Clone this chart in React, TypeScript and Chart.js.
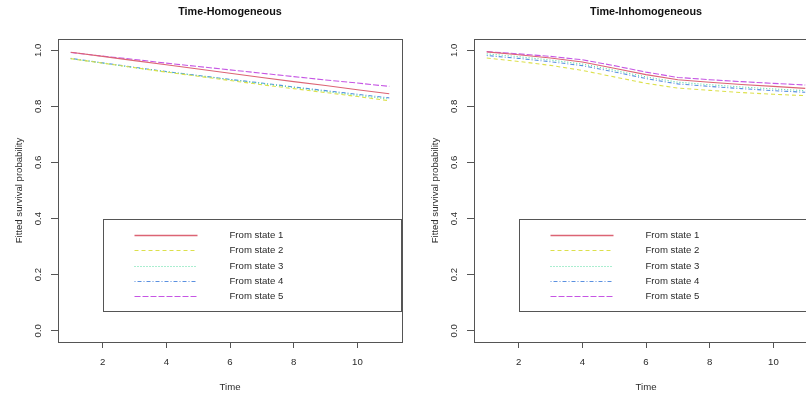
import React, { useEffect, useRef } from "react";
import { Chart, registerables } from "chart.js";

Chart.register(...registerables);

// ---------- data ----------
const times = [1, 2, 3, 4, 5, 6, 7, 8, 9, 10, 11];
const seriesLabels = ["From state 1", "From state 2", "From state 3", "From state 4", "From state 5"];
const panelTitles = ["Time-Homogeneous", "Time-Inhomogeneous"];
const xTitle = "Time";
const yTitle = "Fitted survival probability";
const xTickValues = [2, 4, 6, 8, 10];
const yTickValues = [0, 0.2, 0.4, 0.6, 0.8, 1.0];
const yTickLabels = ["0.0", "0.2", "0.4", "0.6", "0.8", "1.0"];

const homState1 = [0.993, 0.978, 0.963, 0.948, 0.933, 0.918, 0.903, 0.888, 0.874, 0.859, 0.845];
const homState2 = [0.970, 0.954, 0.938, 0.922, 0.907, 0.892, 0.877, 0.863, 0.849, 0.835, 0.820];
const homState3 = [0.970, 0.954, 0.938, 0.923, 0.909, 0.895, 0.881, 0.867, 0.853, 0.839, 0.826];
const homState4 = [0.971, 0.955, 0.939, 0.924, 0.910, 0.896, 0.883, 0.869, 0.856, 0.843, 0.830];
const homState5 = [0.992, 0.979, 0.967, 0.954, 0.942, 0.930, 0.918, 0.906, 0.894, 0.883, 0.871];

const inhomState1 = [0.994, 0.984, 0.972, 0.958, 0.936, 0.913, 0.895, 0.886, 0.878, 0.871, 0.864];
const inhomState2 = [0.972, 0.960, 0.946, 0.928, 0.905, 0.882, 0.865, 0.857, 0.849, 0.843, 0.838];
const inhomState3 = [0.987, 0.977, 0.965, 0.951, 0.929, 0.905, 0.886, 0.877, 0.869, 0.862, 0.856];
const inhomState4 = [0.981, 0.971, 0.959, 0.945, 0.923, 0.899, 0.880, 0.871, 0.863, 0.856, 0.850];
const inhomState5 = [0.995, 0.987, 0.978, 0.966, 0.945, 0.922, 0.903, 0.895, 0.888, 0.882, 0.876];

const homSeries = [homState1, homState2, homState3, homState4, homState5];
const inhomSeries = [inhomState1, inhomState2, inhomState3, inhomState4, inhomState5];

// ---------- styles ----------
const lineColors = ["#dc6474", "#dce04c", "#54dca0", "#5a90e0", "#c656e4"];
const lineDashes: number[][] = [[], [4, 3], [1, 2], [1, 2, 4, 2], [6, 2]];
const FONT = '"Liberation Sans", Arial, Helvetica, sans-serif';
const TEXT_COLOR = "#2a2a2a";
const AXIS_COLOR = "#555";

const CANVAS_W = 416;
const CANVAS_H = 397;

const rPlotPlugin = {
  id: "rplot",
  afterDraw(chart: any, _args: any, opts: any) {
    const { ctx, chartArea: ca } = chart;
    const xs = chart.scales.x;
    const ys = chart.scales.y;
    ctx.save();
    // plot box
    ctx.strokeStyle = AXIS_COLOR;
    ctx.lineWidth = 1;
    ctx.setLineDash([]);
    const bl = Math.round(ca.left) + 0.5;
    const bt = Math.round(ca.top) + 0.5;
    const br = Math.round(ca.right) + 0.5;
    const bb = Math.round(ca.bottom) + 0.5;
    ctx.strokeRect(bl, bt, br - bl, bb - bt);

    // y tick labels (rotated, R style)
    ctx.fillStyle = TEXT_COLOR;
    ctx.font = `9.6px ${FONT}`;
    ctx.textAlign = "center";
    ctx.textBaseline = "middle";
    yTickValues.forEach((v, i) => {
      const py = ys.getPixelForValue(v);
      ctx.save();
      ctx.translate(ca.left - 19.5, py);
      ctx.rotate(-Math.PI / 2);
      ctx.fillText(yTickLabels[i], 0, 0);
      ctx.restore();
    });

    // y title
    ctx.save();
    ctx.translate(ca.left - 38.5, (ca.top + ca.bottom) / 2);
    ctx.rotate(-Math.PI / 2);
    ctx.fillText(yTitle, 0, 0);
    ctx.restore();

    // x title
    ctx.fillText(xTitle, (ca.left + ca.right) / 2, ca.bottom + 45);

    // main title
    ctx.font = `bold 10.8px ${FONT}`;
    ctx.fillStyle = "#111";
    ctx.fillText(opts.title, (ca.left + ca.right) / 2, 12);

    // legend (anchored at x = 2, y = 0.4 in data coords)
    const lx = Math.round(xs.getPixelForValue(2)) + 0.5;
    const lt = Math.round(ys.getPixelForValue(0.4)) + 0.5;
    const lb = Math.round(ys.getPixelForValue(0.071)) + 0.5;
    const lr = Math.round(ca.right) - 0.5;
    ctx.fillStyle = "#fff";
    ctx.fillRect(lx, lt, lr - lx, lb - lt);
    ctx.strokeStyle = AXIS_COLOR;
    ctx.lineWidth = 1;
    ctx.strokeRect(lx, lt, lr - lx, lb - lt);
    const rowH = (lb - lt) / 6;
    ctx.font = `9.6px ${FONT}`;
    ctx.textAlign = "left";
    ctx.textBaseline = "middle";
    chart.data.datasets.forEach((ds: any, i: number) => {
      const ry = Math.round(lt + rowH * (i + 1)) + 0.5;
      ctx.strokeStyle = ds.borderColor;
      ctx.lineWidth = i === 0 ? 1.6 : 1;
      ctx.setLineDash(ds.borderDash || []);
      ctx.beginPath();
      ctx.moveTo(lx + 31, ry);
      ctx.lineTo(lx + 94, ry);
      ctx.stroke();
      ctx.setLineDash([]);
      ctx.fillStyle = TEXT_COLOR;
      ctx.fillText(ds.label, lx + 126, ry);
    });
    ctx.restore();
  },
};

function Panel({ left, title, series }: { left: number; title: string; series: number[][] }) {
  const ref = useRef<HTMLCanvasElement | null>(null);
  useEffect(() => {
    if (!ref.current) return;
    const chart = new Chart(ref.current, {
      type: "line",
      data: {
        datasets: series.map((vals, i) => ({
          label: seriesLabels[i],
          data: times.map((t, j) => ({ x: t, y: vals[j] })),
          borderColor: lineColors[i],
          borderDash: lineDashes[i],
          borderWidth: 1.1,
          pointRadius: 0,
          fill: false,
          tension: 0,
        })),
      },
      options: {
        responsive: false,
        animation: false,
        devicePixelRatio: 1,
        layout: { padding: { top: 39, right: 14, left: 0, bottom: 0 } },
        plugins: {
          legend: { display: false },
          tooltip: { enabled: false },
          title: { display: false },
          rplot: { title },
        } as any,
        scales: {
          x: {
            type: "linear",
            min: 0.6,
            max: 11.4,
            afterBuildTicks: (s: any) => {
              s.ticks = xTickValues.map((v) => ({ value: v }));
            },
            afterFit: (s: any) => {
              s.height = CANVAS_H - 342;
            },
            border: { display: false },
            grid: {
              drawOnChartArea: false,
              drawTicks: true,
              tickLength: 6,
              color: AXIS_COLOR,
              lineWidth: 1,
            },
            ticks: {
              font: { family: FONT, size: 9.6 },
              color: TEXT_COLOR,
              padding: 9,
              maxRotation: 0,
              autoSkip: false,
              callback: (v: any) => String(v),
            },
          },
          y: {
            type: "linear",
            min: -0.04,
            max: 1.04,
            afterBuildTicks: (s: any) => {
              s.ticks = yTickValues.map((v) => ({ value: v }));
            },
            afterFit: (s: any) => {
              s.width = 58;
            },
            border: { display: false },
            grid: {
              drawOnChartArea: false,
              drawTicks: true,
              tickLength: 7,
              color: AXIS_COLOR,
              lineWidth: 1,
            },
            ticks: { display: false },
          },
        },
      } as any,
      plugins: [rPlotPlugin],
    });
    return () => chart.destroy();
  }, [title, series]);
  return (
    <canvas
      ref={ref}
      width={CANVAS_W}
      height={CANVAS_H}
      style={{ position: "absolute", left, top: 0, width: CANVAS_W, height: CANVAS_H, display: "block" }}
    />
  );
}

export default function App() {
  return (
    <div
      style={{
        position: "absolute",
        left: 0,
        top: 0,
        width: 806,
        height: 397,
        overflow: "hidden",
        background: "#fff",
      }}
    >
      <Panel left={0} title={panelTitles[0]} series={homSeries} />
      <Panel left={416} title={panelTitles[1]} series={inhomSeries} />
    </div>
  );
}
